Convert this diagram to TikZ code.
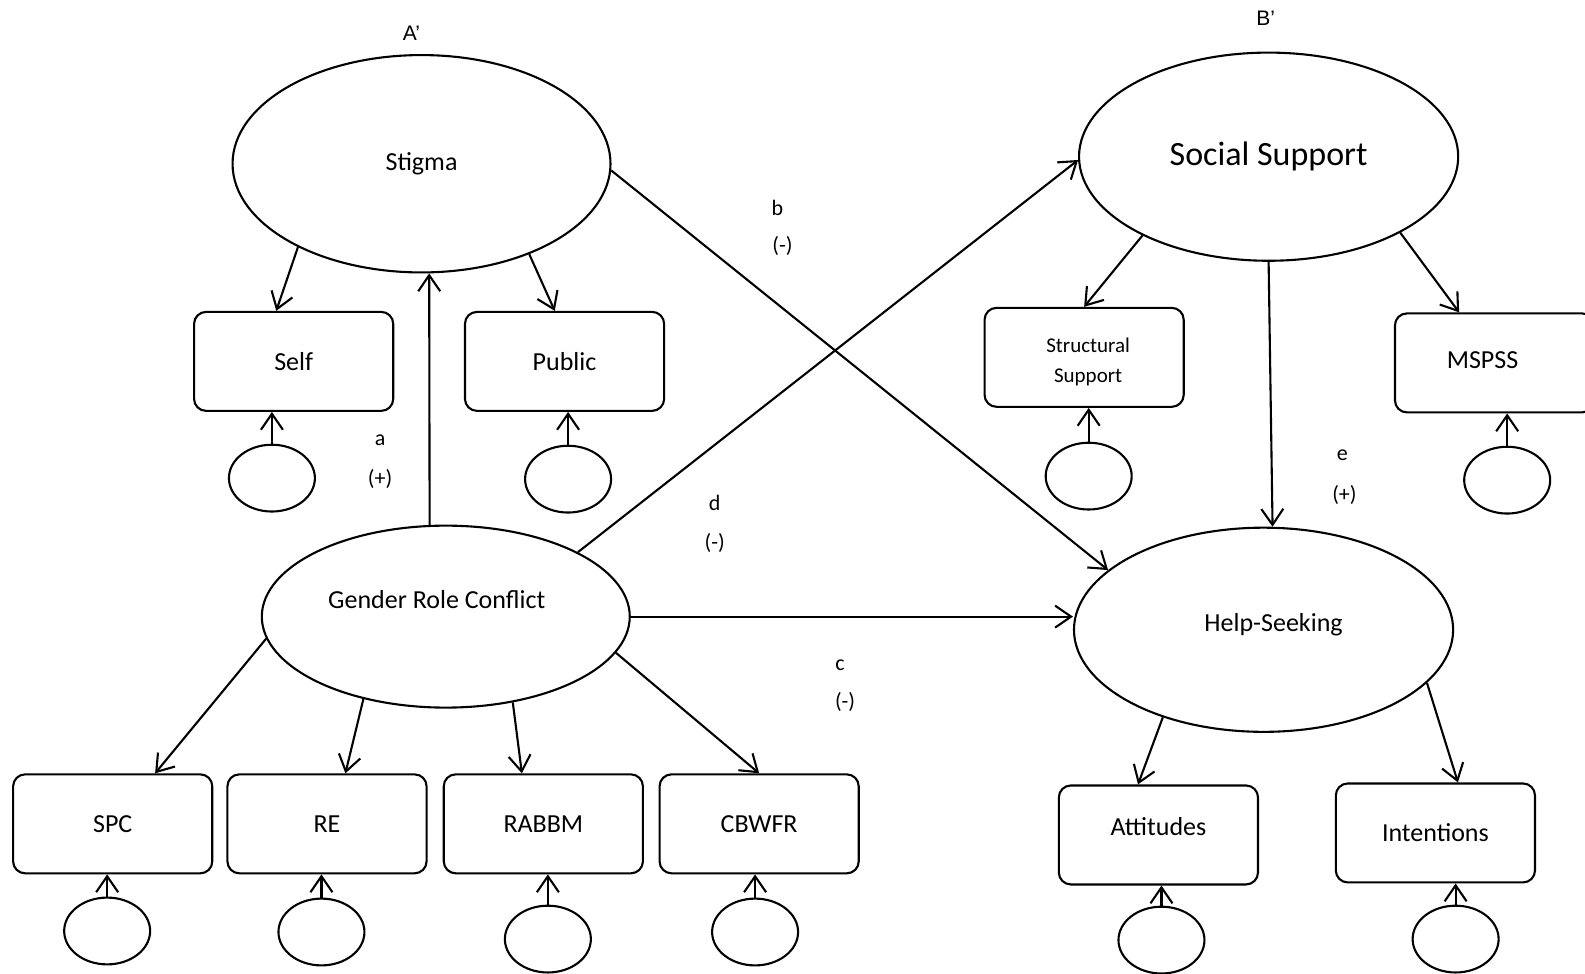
\documentclass[tikz,border=0pt]{standalone}
\usepackage{fontspec}
\setmainfont{Carlito}
\newfontfamily\primefont{Liberation Sans}
\usetikzlibrary{shapes.geometric,arrows.meta}

\tikzset{
  latent/.style={ellipse, draw, inner sep=0pt, font=\fontsize{13}{15}\selectfont},
  measure/.style={draw, rounded corners=6pt, minimum width=99.6pt, minimum height=49.5pt, font=\fontsize{13}{15}\selectfont},
  errvar/.style={ellipse, draw, minimum width=43pt, minimum height=33.4pt, inner sep=0pt},
  pathlabel/.style={font=\fontsize{11}{13}\selectfont, inner sep=0pt},
  inlabel/.style={font=\fontsize{13}{15}\selectfont},
  arr/.style={-{Straight Barb[length=8pt,width=11pt]}}
}

\begin{document}
\begin{tikzpicture}[x=0.5055pt, y=-0.5055pt, line width=1.05pt]
    \useasboundingbox (0,0) rectangle (1568,963);

    % latent variables
    \node[latent, minimum width=189pt, minimum height=108.7pt] (stigma) at (417,162) {Stigma};
    \node[latent, minimum width=189.6pt, minimum height=104.1pt, font=\fontsize{17}{20}\selectfont] (ss) at (1255,155) {Social Support};
    \node[latent, minimum width=184pt, minimum height=91pt,
          label={[inlabel, xshift=-4.5pt, yshift=8.6pt]center:Gender Role Conflict}] (grc) at (441,610) {};
    \node[latent, minimum width=189.6pt, minimum height=102.1pt,
          label={[inlabel, xshift=5pt, yshift=2.5pt]center:Help-Seeking}] (hs) at (1250,623) {};

    % indicators
    \node[measure] (self) at (290.5,357.5) {Self};
    \node[measure] (public) at (558.5,357.5) {Public};
    \node[measure, label={[align=center, font=\fontsize{10.5}{15}\selectfont, xshift=2pt, yshift=-2.3pt]center:Structural\\Support}] (struct) at (1072.5,353.5) {};
    \node[measure, label={[inlabel, xshift=-6pt, yshift=1.3pt]center:MSPSS}] (mspss) at (1478.5,359) {};
    \node[measure] (spc) at (111.5,815) {SPC};
    \node[measure] (re) at (323.5,815) {RE};
    \node[measure] (rabbm) at (537.5,815) {RABBM};
    \node[measure] (cbwfr) at (751,815) {CBWFR};
    \node[measure, label={[inlabel, yshift=4pt]center:Attitudes}] (att) at (1146,826) {};
    \node[measure] (int) at (1420,824) {Intentions};

    % error terms
    \foreach \ind/\x/\y in {self/269/473, public/562/474, struct/1077/471, mspss/1491/475,
      spc/106/921, re/318/922, rabbm/542/929, cbwfr/747/922, att/1149/930, int/1440/929}
    {
      \node[errvar] (e\ind) at (\x,\y) {};
      \draw[arr] (e\ind.north) -- (e\ind.north |- \ind.south);
    }

    % paths
    \foreach \src/\dst in {
      stigma.214/self.109, stigma.-40/public.101, grc.100/stigma.-86,
      stigma.-2/hs.159, grc.26/ss.181, ss.south/hs.85,
      ss.212/struct.north, ss.-30/mspss.125,
      grc.187/spc.50, grc.225/re.70, grc.-52/rabbm.113, grc.-12/cbwfr.north,
      hs.221/att.112, hs.-18/int.66}
      \draw[arr] (\src) -- (\dst);
    \draw[arr] (grc.east) -- (grc.east -| hs.west);

    % labels
    \node[font=\primefont\fontsize{10.5}{12}\selectfont] (aprime) at (407,33) {A’};
    \node[font=\primefont\fontsize{10.5}{12}\selectfont] (bprime) at (1252,18) {B’};
    \node[pathlabel] (pa) at (376,436) {a};
    \node[pathlabel] (sa) at (376,474) {(+)};
    \node[pathlabel] (pb) at (769,206) {b};
    \node[pathlabel] (sb) at (774,243) {(-)};
    \node[pathlabel] (pd) at (707,498) {d};
    \node[pathlabel] (sd) at (707,537) {(-)};
    \node[pathlabel] (pc) at (831,658) {c};
    \node[pathlabel] (sc) at (836,694) {(-)};
    \node[pathlabel] (pe) at (1328,450) {e};
    \node[pathlabel] (se) at (1330,490) {(+)};
\end{tikzpicture}
\end{document}
